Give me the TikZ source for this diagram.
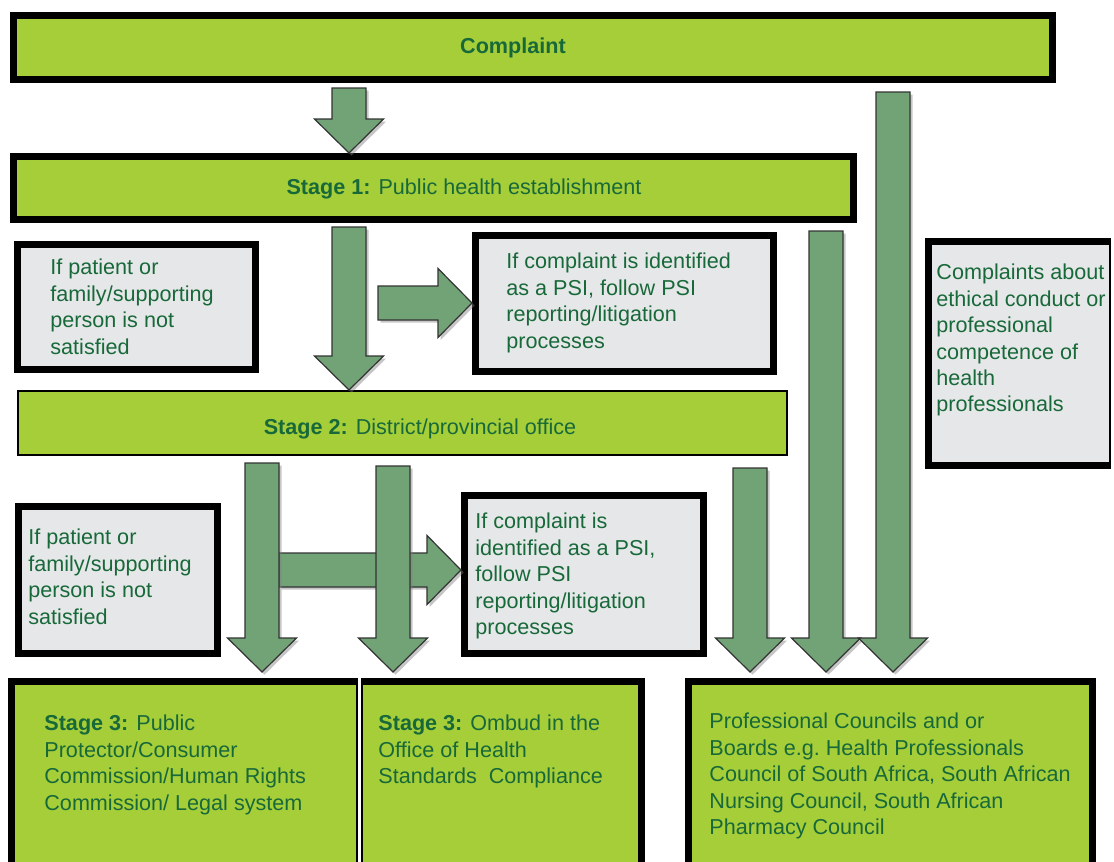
\documentclass[tikz,border=0pt]{standalone}
\usepackage{fontspec}
\setmainfont{Liberation Sans}
\usepackage{tikz}
\usetikzlibrary{fit,shadows}
\definecolor{lm}{HTML}{A6CE39}
\definecolor{gy}{HTML}{E6E7E8}
\definecolor{ar}{HTML}{72A377}
\definecolor{tx}{HTML}{18693A}

\begin{document}
\begin{tikzpicture}[x=0.5pt,y=-0.5pt]
  \tikzstyle{every node}=[font=\fontsize{10.8}{13.2}\selectfont,text=tx,inner sep=0pt]
  \tikzstyle{gbox}=[draw=black,line width=3.5pt,fill=lm]
  \tikzstyle{thinbox}=[draw=black,line width=1pt,fill=lm]
  \tikzstyle{qbox}=[draw=black,line width=3.5pt,fill=gy]
  \tikzstyle{txt}=[anchor=north west,align=left]
  \tikzstyle{fat}=[draw=black!80,line width=0.6pt,fill=ar,
    drop shadow={shadow xshift=1.3pt,shadow yshift=-1.3pt,opacity=0.45}]
  \tikzstyle{fatdown}=[fat,to path={([xshift=-8.5pt]\tikztostart) -- ([xshift=8.5pt]\tikztostart)
    -- ([xshift=8.5pt,yshift=17pt]\tikztotarget) -- ([xshift=17.25pt,yshift=17pt]\tikztotarget)
    -- (\tikztotarget) -- ([xshift=-17.25pt,yshift=17pt]\tikztotarget)
    -- ([xshift=-8.5pt,yshift=17pt]\tikztotarget) -- cycle}]
  \tikzstyle{fatright}=[fat,to path={([yshift=8.5pt]\tikztostart) -- ([yshift=-8.5pt]\tikztostart)
    -- ([xshift=-17pt,yshift=-8.5pt]\tikztotarget) -- ([xshift=-17pt,yshift=-17.25pt]\tikztotarget)
    -- (\tikztotarget) -- ([xshift=-17pt,yshift=17.25pt]\tikztotarget)
    -- ([xshift=-17pt,yshift=8.5pt]\tikztotarget) -- cycle}]
  \useasboundingbox (0,0) rectangle (1114,862);
  % boxes
  \node[gbox,fit={(13.5,15.5) (1052.5,79.5)}] (complaint) {};
  \node[gbox,fit={(13.5,156.5) (853.5,219.5)}] (stage1) {};
  \node[qbox,fit={(17.5,244.5) (255.5,369.5)}] (ifnot1) {};
  \node[qbox,fit={(475.5,235.5) (773.5,371.5)}] (psi1) {};
  \node[qbox,line width=1pt,fit={(928.5,241.5) (1110,465.5)}] (ethic) {};
  \draw[line width=3.5pt] (1110.5,241.5) -- (928.5,241.5) -- (928.5,465.5) -- (1110.5,465.5);
  \node[thinbox,fit={(18,391) (787,455)}] (stage2) {};
  \node[qbox,fit={(18.5,506.5) (217.5,653.5)}] (ifnot2) {};
  \node[qbox,fit={(464.5,495.5) (703.5,653.5)}] (psi2) {};
  \node[thinbox,fit={(9,679) (357,900)}] (st3a) {};
  \node[thinbox,fit={(361.5,679) (643,900)}] (st3b) {};
  \node[gbox,fit={(688.5,681.5) (1092.5,900)}] (st3c) {};
  \draw[line width=3.5pt] (11.5,900) -- (11.5,681.5) -- (357.5,681.5);
  \draw[line width=3.5pt] (361,681.5) -- (641.5,681.5) -- (641.5,900);
  % texts
  \node[anchor=base] (complaint-t) at (513,54) {\textbf{Complaint}};
  \node[anchor=base] (stage1-t) at (464,194) {\textbf{Stage 1:} Public health establishment};
  \node[anchor=base] (stage2-t) at (420,434) {\textbf{Stage 2:} District/provincial office};
  \node[txt] (ifnot1-t) at (50,256) {\strut If patient or\\family/supporting\\person is not\\satisfied};
  \node[txt] (psi1-t) at (506,250) {\strut If complaint is identified\\as a PSI, follow PSI\\reporting/litigation\\processes};
  \node[txt] (ethic-t) at (936,261) {\strut Complaints about\\ethical conduct or\\professional\\competence of\\health\\professionals};
  \node[txt] (ifnot2-t) at (28,526) {\strut If patient or\\family/supporting\\person is not\\satisfied};
  \node[txt] (psi2-t) at (475,510) {\strut If complaint is\\identified as a PSI,\\follow PSI\\reporting/litigation\\processes};
  \node[txt] (st3a-t) at (44,712) {\strut\textbf{Stage 3:} Public\\Protector/Consumer\\Commission/Human Rights\\Commission/ Legal system};
  \node[txt] (st3b-t) at (378,712) {\strut\textbf{Stage 3:} Ombud in the\\Office of Health\\Standards\ \ Compliance};
  \node[txt] (st3c-t) at (709,710) {\strut Professional Councils and or\\Boards e.g.\ Health Professionals\\Council of South Africa, South African\\Nursing Council, South African\\Pharmacy Council};
  % arrows
  \coordinate (a1) at (349,88);
  \coordinate (a2) at (349,227);
  \coordinate (r1) at (378,303);
  \coordinate (r2) at (279,570);
  \coordinate (aA) at (262,463);
  \coordinate (aB) at (393,466);
  \coordinate (aC) at (750,468);
  \coordinate (aD) at (826,231);
  \coordinate (aE) at (893,92);
  \coordinate (tA) at ([yshift=3pt]st3a.north -| aA);
  \coordinate (tB) at ([yshift=3pt]st3b.north -| aB);
  \coordinate (tC) at ([yshift=3pt]st3c.north -| aC);
  \coordinate (tD) at ([yshift=3pt]st3c.north -| aD);
  \coordinate (tE) at ([yshift=3pt]st3c.north -| aE);
  \draw[fatdown] (a1) to (stage1.north -| a1);
  \draw[fatdown] (a2) to (stage2.north -| a2);
  \draw[fatright] (r1) to (psi1.west |- r1);
  \draw[fatright] (r2) to (psi2.west |- r2);
  \draw[fatdown] (aA) to (tA);
  \draw[fatdown] (aB) to (tB);
  \draw[fatdown] (aC) to (tC);
  \draw[fatdown] (aD) to (tD);
  \draw[fatdown] (aE) to (tE);
\end{tikzpicture}
\end{document}
